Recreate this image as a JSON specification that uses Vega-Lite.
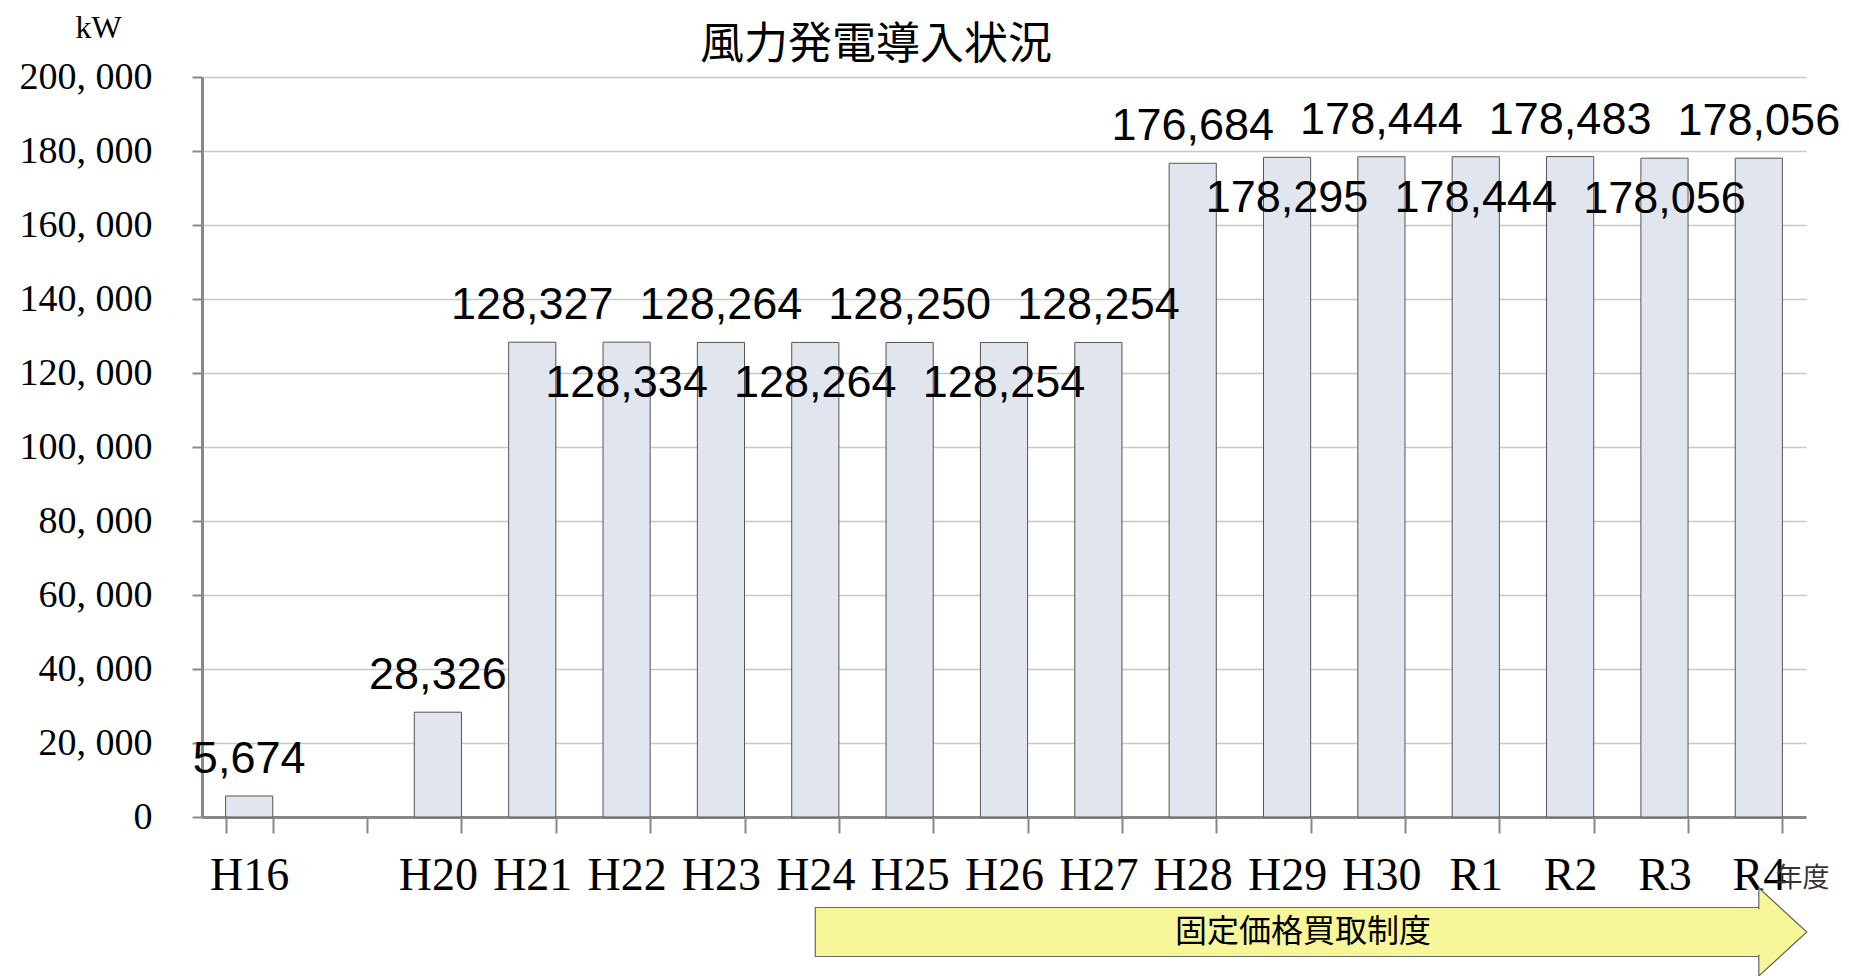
{
  "$schema": "https://vega.github.io/schema/vega-lite/v6.json",
  "width": 1604,
  "height": 740,
  "autosize": {"type": "none"},
  "padding": {"left": 202, "top": 77, "right": 43, "bottom": 159},
  "background": "white",
  "title": {
    "text": "風力発電導入状況",
    "anchor": "start",
    "frame": "group",
    "dx": 498,
    "font": "Noto Sans CJK JP",
    "fontSize": 44,
    "fontWeight": "normal",
    "color": "#000",
    "baseline": "alphabetic",
    "offset": -92
  },
  "config": {"view": {"stroke": null}},
  "datasets": {
    "wind": [
      {"year": "H16", "kW": 5674},
      {"year": "H20", "kW": 28326},
      {"year": "H21", "kW": 128327},
      {"year": "H22", "kW": 128334},
      {"year": "H23", "kW": 128264},
      {"year": "H24", "kW": 128264},
      {"year": "H25", "kW": 128250},
      {"year": "H26", "kW": 128254},
      {"year": "H27", "kW": 128254},
      {"year": "H28", "kW": 176684},
      {"year": "H29", "kW": 178295},
      {"year": "H30", "kW": 178444},
      {"year": "R1", "kW": 178444},
      {"year": "R2", "kW": 178483},
      {"year": "R3", "kW": 178056},
      {"year": "R4", "kW": 178056}
    ],
    "fit": [{"label": "固定価格買取制度", "start": "H24", "end": "R4"}]
  },
  "layer": [
    {
      "data": {"name": "wind"},
      "mark": {"type": "bar", "fill": "#e1e6ee", "stroke": "#555", "strokeWidth": 1},
      "encoding": {
        "x": {
          "field": "year",
          "type": "nominal",
          "sort": null,
          "scale": {
            "domain": ["H16", " ", "H20", "H21", "H22", "H23", "H24", "H25", "H26", "H27", "H28", "H29", "H30", "R1", "R2", "R3", "R4"],
            "paddingInner": 0.5,
            "paddingOuter": 0.25
          },
          "axis": {
            "title": "年度",
            "titleFont": "Noto Sans CJK JP",
            "titleFontSize": 27,
            "titleFontWeight": "normal",
            "titleColor": "#333",
            "titleX": 1573,
            "titleY": 61,
            "titleAlign": "left",
            "titleAnchor": "start",
            "titleBaseline": "middle",
            "labelFont": "Liberation Serif",
            "labelFontSize": 46,
            "labelColor": "#000",
            "labelAngle": 0,
            "labelBaseline": "alphabetic",
            "labelPadding": 56,
            "labelOverlap": false,
            "labelFlush": false,
            "tickBand": "extent",
            "tickSize": 16,
            "tickColor": "#888",
            "tickWidth": 2,
            "domainColor": "#888",
            "domainWidth": 3,
            "grid": false
          }
        },
        "y": {
          "field": "kW",
          "type": "quantitative",
          "scale": {"domain": [0, 200000], "nice": false},
          "axis": {
            "title": "kW",
            "titleAngle": 0,
            "titleX": -104,
            "titleY": -40,
            "titleAlign": "center",
            "titleBaseline": "alphabetic",
            "titleFont": "Liberation Serif",
            "titleFontSize": 32,
            "titleFontWeight": "normal",
            "titleColor": "#000",
            "values": [0, 20000, 40000, 60000, 80000, 100000, 120000, 140000, 160000, 180000, 200000],
            "labelExpr": "replace(format(datum.value, ','), ',', ', ')",
            "labelFont": "Liberation Serif",
            "labelFontSize": 38,
            "labelColor": "#000",
            "labelPadding": 40,
            "tickSize": 10,
            "tickColor": "#888",
            "tickWidth": 2,
            "domainColor": "#888",
            "domainWidth": 3,
            "gridColor": "#c8c8c8",
            "gridWidth": 1.5
          }
        }
      }
    },
    {
      "data": {"name": "wind"},
      "transform": [{"filter": "indexof(['H22','H24','H26','H29','R1','R3'], datum.year) < 0"}],
      "mark": {"type": "text", "font": "Liberation Sans", "fontSize": 45, "color": "#000", "baseline": "middle", "dy": -37},
      "encoding": {
        "x": {"field": "year", "type": "nominal", "sort": null},
        "y": {"field": "kW", "type": "quantitative"},
        "text": {"field": "kW", "type": "quantitative", "format": ","}
      }
    },
    {
      "data": {"name": "wind"},
      "transform": [{"filter": "indexof(['H22','H24','H26','H29','R1','R3'], datum.year) >= 0"}],
      "mark": {"type": "text", "font": "Liberation Sans", "fontSize": 45, "color": "#000", "baseline": "middle", "dy": 41},
      "encoding": {
        "x": {"field": "year", "type": "nominal", "sort": null},
        "y": {"field": "kW", "type": "quantitative"},
        "text": {"field": "kW", "type": "quantitative", "format": ","}
      }
    },
    {
      "data": {"name": "fit"},
      "mark": {"type": "rect", "fill": "#f7f799", "stroke": "#666", "strokeWidth": 1.2, "clip": false},
      "encoding": {
        "x": {"field": "start", "type": "nominal", "bandPosition": 0.5},
        "x2": {"field": "end", "bandPosition": 0.5},
        "y": {"datum": -24460},
        "y2": {"datum": -37700}
      }
    },
    {
      "data": {"name": "fit"},
      "mark": {"type": "point", "shape": "M0,-1 L1.09,0 L0,1 Z", "size": 7744, "filled": true, "fill": "#f7f799", "stroke": "#666", "strokeWidth": 1.2, "opacity": 1, "clip": false},
      "encoding": {
        "x": {"field": "end", "type": "nominal"},
        "y": {"datum": -31080}
      }
    },
    {
      "data": {"name": "fit"},
      "mark": {"type": "rule", "color": "#f7f799", "strokeWidth": 4, "clip": false},
      "encoding": {
        "x": {"field": "end", "type": "nominal"},
        "y": {"datum": -24900},
        "y2": {"datum": -37250}
      }
    },
    {
      "data": {"name": "fit"},
      "mark": {"type": "text", "font": "Noto Sans CJK JP", "fontSize": 32, "color": "#000", "baseline": "middle", "dx": 16},
      "encoding": {
        "x": {"datum": "H29"},
        "y": {"datum": -31080},
        "text": {"field": "label"}
      }
    }
  ]
}
